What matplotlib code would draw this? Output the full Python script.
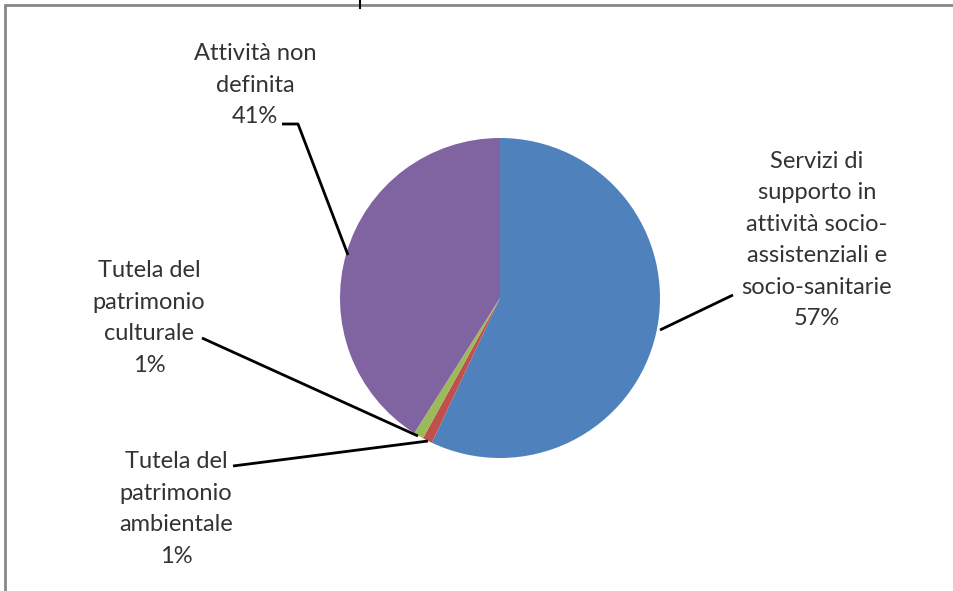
import matplotlib
matplotlib.use("Agg")
import matplotlib.pyplot as plt
from matplotlib.patches import Rectangle

# dati
categorie = ["Servizi di\nsupporto in\nattività socio-\nassistenziali e\nsocio-sanitarie",
             "Tutela del\npatrimonio\nambientale",
             "Tutela del\npatrimonio\nculturale",
             "Attività non\ndefinita"]
valori = [57, 1, 1, 41]
colori = ["#4F81BD", "#C0504D", "#9BBB59", "#8064A2"]

W, H = 954, 591

# posizioni etichette (pixel dall'alto) e linee guida
pos_testo = [(817, 240), (176, 509), (149, 318), (255, 85)]
linea = [[(733, 295), (660, 330)],
         [(233, 466), (428, 441)],
         [(202, 338), (418, 436)],
         [(282, 124), (298, 124), (348, 255)]]

plt.rcParams['font.family'] = ['Lato', 'DejaVu Sans']

fig = plt.figure(figsize=(W / 100, H / 100), dpi=100)
ax = fig.add_axes([0, 0, 1, 1])

ax.pie(valori, colors=colori, startangle=90, counterclock=False,
       center=(500, H - 298), radius=160, frame=True,
       wedgeprops=dict(linewidth=0))
ax.set_xlim(0, W)
ax.set_ylim(0, H)
ax.set_aspect("equal")
ax.axis("off")

for cat, v, (x, y), pts in zip(categorie, valori, pos_testo, linea):
    ax.text(x, H - y, f"{cat}\n{v}%", ha="center", va="center", fontsize=17,
            color="#333333", linespacing=1.62)
    xs = [p[0] for p in pts]
    ys = [H - p[1] for p in pts]
    ax.plot(xs, ys, color="black", linewidth=2, solid_capstyle="butt")

# cornice
ax.add_patch(Rectangle((5, -20), 970, H - 5 + 20, fill=False,
                       edgecolor="#888888", linewidth=2))
ax.plot([360, 360], [H, H - 8], color="black", linewidth=1.5)

fig.savefig("out.png", dpi=100)
